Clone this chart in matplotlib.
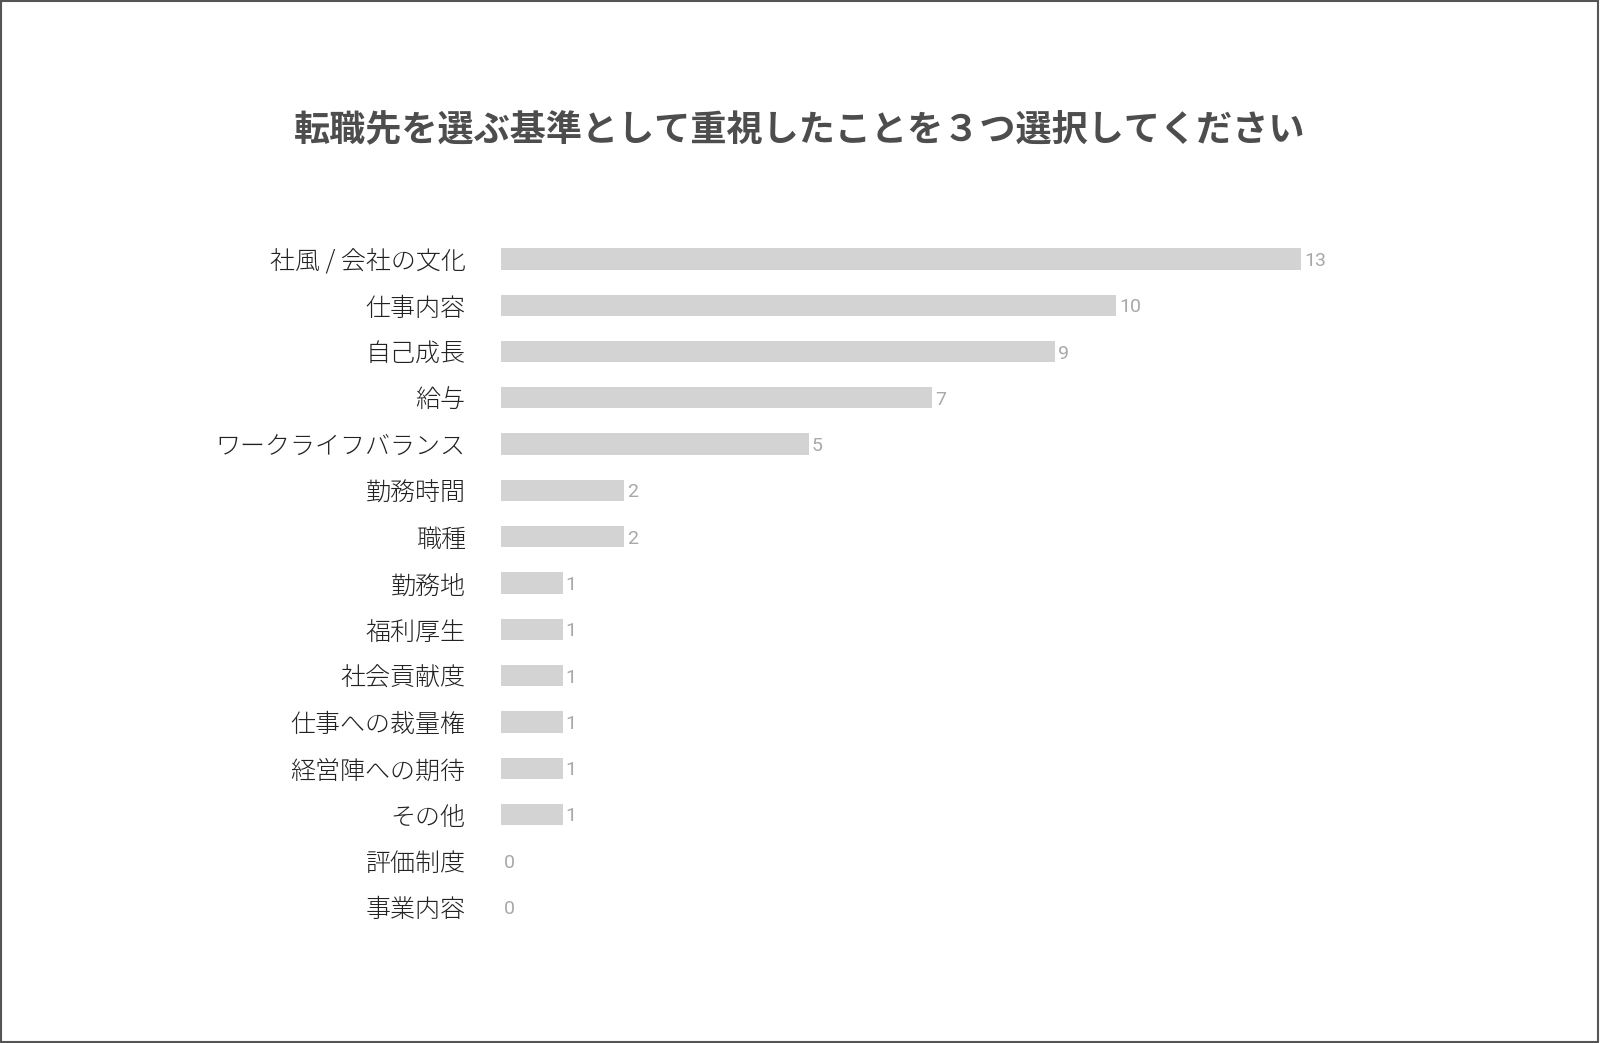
import matplotlib
matplotlib.use('Agg')
import matplotlib.pyplot as plt
from matplotlib.patches import Rectangle

plt.rcParams['font.family'] = ['Noto Sans CJK JP', 'DejaVu Sans']

title = '転職先を選ぶ基準として重視したことを３つ選択してください'
categories = ['社風 / 会社の文化', '仕事内容', '自己成長', '給与', 'ワークライフバランス',
              '勤務時間', '職種', '勤務地', '福利厚生', '社会貢献度',
              '仕事への裁量権', '経営陣への期待', 'その他', '評価制度', '事業内容']
counts = [13, 10, 9, 7, 5, 2, 2, 1, 1, 1, 1, 1, 1, 0, 0]

W, H = 1600, 1043
fig = plt.figure(figsize=(W / 100, H / 100), dpi=100)

# axes placed so that 0..13 spans the bar area
row = 46.3
top = 259 - row / 2
bottom = 907 + row / 2
ax = fig.add_axes([501 / W, 1 - bottom / H, 800 / W, (bottom - top) / H])

ypos = list(range(len(categories)))
ax.barh(ypos, counts, height=0.46, color='#d3d3d3')
ax.set_xlim(0, 13)
ax.set_ylim(len(categories) - 0.5, -0.5)

ax.set_yticks(ypos)
ax.set_yticklabels(categories, fontsize=18, color='#222222', fontweight='light')
ax.tick_params(axis='y', length=0, pad=25.5)
ax.set_xticks([])
for s in ax.spines.values():
    s.set_visible(False)

# value labels at bar ends
for y, v in zip(ypos, counts):
    ax.annotate(str(v), (v, y), xytext=(3, -2), textcoords='offset pixels',
                ha='left', va='center', fontsize=14, color='#a8a8a8',
                family=['Roboto', 'DejaVu Sans'])

fig.text(0.5, 1 - 131 / H, title, ha='center', va='center',
         fontsize=26, fontweight='bold', color='#4d4d4d')

# thin frame round the picture
fig.patches.append(Rectangle((0.0005, 0.0008), 0.998, 0.9984, transform=fig.transFigure,
                             fill=False, edgecolor='#555555', linewidth=1.5))

fig.savefig('out.png', dpi=100, facecolor='white')
